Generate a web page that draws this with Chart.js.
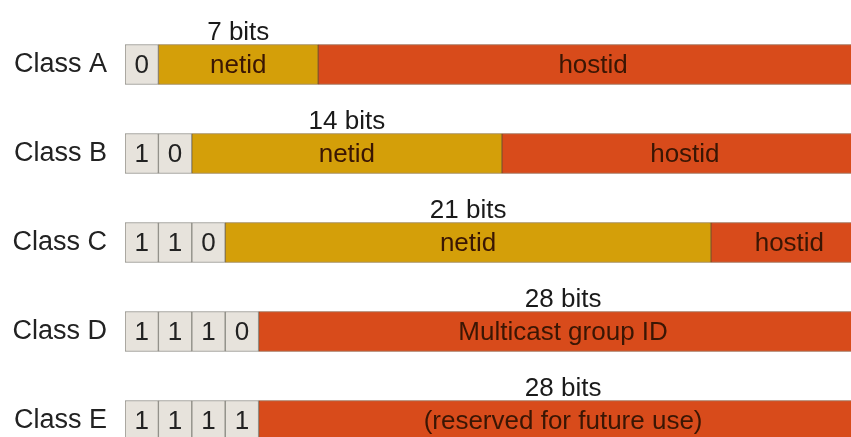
<!DOCTYPE html>
<html>
<head>
<meta charset="utf-8">
<script src="https://cdn.jsdelivr.net/npm/chart.js@4"></script>
<style>
  html, body { margin: 0; padding: 0; background: #fff; overflow: hidden; }
  #wrap { position: relative; width: 868px; height: 465px; }
</style>
</head>
<body>
<div id="wrap"><canvas id="chart"></canvas></div>
<script>
// rows
const classes = ['Class A', 'Class B', 'Class C', 'Class D', 'Class E']

// leading class bits, one box each (box width in display units, ~1.47 netid bits)
const prefixBits = [['0'], ['1', '0'], ['1', '1', '0'], ['1', '1', '1', '0'], ['1', '1', '1', '1']]
const boxWidth = [1.47, 1.47, 1.47, 1.47, 1.47]

// segment widths
const netidWidth = [7.03, 13.65, 21.38, null, null]
const restWidth = [24.2, 16.1, 6.9, 26.8, 26.8]

// texts
const netidLabels = ['netid', 'netid', 'netid', null, null]
const restLabels = ['hostid', 'hostid', 'hostid', 'Multicast group ID', '(reserved for future use)']
const bitCaptions = ['7 bits', '14 bits', '21 bits', '28 bits', '28 bits']

const FONT = "'Liberation Sans', Arial, Helvetica, sans-serif"

// one dataset per prefix box position
const boxSets = [0, 1, 2, 3].map(i => ({
  label: 'bit ' + (i + 1),
  data: classes.map((c, r) => (prefixBits[r].length > i ? boxWidth[r] : null)),
  texts: classes.map((c, r) => prefixBits[r][i] || null),
  textColor: '#222',
  backgroundColor: '#e7e3dc',
  borderColor: '#8d8b84',
}))

const datasets = [
  ...boxSets,
  {
    label: 'netid',
    data: netidWidth,
    texts: netidLabels,
    captions: bitCaptions,
    textColor: '#3a1604',
    backgroundColor: '#d49f09',
    borderColor: '#8a6a2a',
  },
  {
    label: 'hostid',
    data: restWidth,
    texts: restLabels,
    captions: classes.map((c, r) => (netidWidth[r] == null ? bitCaptions[r] : null)),
    textColor: '#3a1604',
    backgroundColor: '#d84b1b',
    borderColor: '#8a4a2a',
  },
]
datasets.forEach(d => {
  d.borderWidth = 1
  d.borderSkipped = false
  d.barThickness = 40
})

// writes the box digits, field names and bit counts
const segmentText = {
  id: 'segmentText',
  afterDatasetsDraw(chart) {
    const ctx = chart.ctx
    ctx.save()
    ctx.font = '26px ' + FONT
    ctx.textAlign = 'center'
    chart.data.datasets.forEach((ds, di) => {
      chart.getDatasetMeta(di).data.forEach((el, r) => {
        if (ds.data[r] == null) return
        const {x, base, y, height} = el.getProps(['x', 'base', 'y', 'height'], true)
        const cx = (x + base) / 2
        if (ds.texts && ds.texts[r]) {
          ctx.fillStyle = ds.textColor
          ctx.textBaseline = 'middle'
          ctx.fillText(ds.texts[r], cx, y + 1)
        }
        if (ds.captions && ds.captions[r]) {
          ctx.fillStyle = '#1a1a1a'
          ctx.textBaseline = 'alphabetic'
          ctx.fillText(ds.captions[r], cx, y - height / 2 - 5)
        }
      })
    })
    ctx.restore()
  },
}

new Chart(document.getElementById('chart'), {
  type: 'bar',
  data: {labels: classes, datasets},
  options: {
    indexAxis: 'y',
    responsive: true,
    maintainAspectRatio: false,
    animation: false,
    layout: {padding: {top: 20, right: 0, bottom: 0, left: 0}},
    plugins: {legend: {display: false}, tooltip: {enabled: false}},
    scales: {
      x: {stacked: true, min: 0, max: 32.7, display: false},
      y: {
        stacked: true,
        grid: {display: false, drawTicks: false},
        border: {display: false},
        ticks: {color: '#222', padding: 18, font: {family: FONT, size: 27}},
        afterFit(scale) {
          scale.width = 125
          // no extra room for half-labels above and below
          scale.paddingTop = 0
          scale.paddingBottom = 0
        },
      },
    },
  },
  plugins: [segmentText],
})
</script>
</body>
</html>
